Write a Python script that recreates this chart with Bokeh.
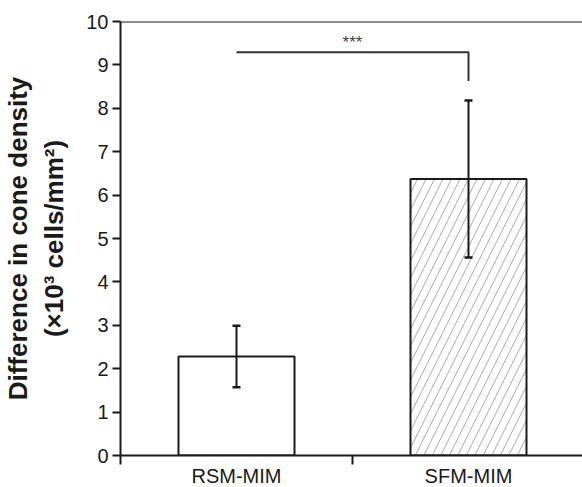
from bokeh.plotting import figure
from bokeh.models import (ColumnDataSource, Range1d, FixedTicker, Whisker, TeeHead,
                          Span, Label)
from bokeh.embed import file_html
from bokeh.resources import INLINE

# ---- data ----
categories = ["RSM-MIM", "SFM-MIM"]
means = [2.28, 6.37]
errors = [0.71, 1.81]
bracket_y = 9.29
bracket_drop = 8.63
sig_label = "***"
y_ticks = [0, 1, 2, 3, 4, 5, 6, 7, 8, 9, 10]
y_label = "Difference in cone density\n(×10³ cells/mm²)"

FONT = "Liberation Sans"
xs = [i + 0.5 for i in range(len(categories))]
src = ColumnDataSource(dict(
    x=xs, top=means,
    upper=[m + e for m, e in zip(means, errors)],
    lower=[m - e for m, e in zip(means, errors)],
))

p = figure(frame_width=462, frame_height=434, output_backend="svg", toolbar_location=None,
           x_range=Range1d(0, 462 / 232), y_range=Range1d(0, 10),
           min_border_left=120, min_border_right=0, min_border_top=21,
           min_border_bottom=0)
p.xgrid.visible = False
p.ygrid.visible = False
p.outline_line_color = None
p.background_fill_color = "white"
p.border_fill_color = "white"

# bars
p.vbar(x=[xs[0]], top=[means[0]], width=0.5, fill_color="white",
       line_color="#1a1a1a", line_width=2)
p.vbar(x=[xs[1]], top=[means[1]], width=0.5, fill_color="white",
       line_color="#1a1a1a", line_width=2, hatch_pattern="/",
       hatch_color="#9a9a9a", hatch_scale=17, hatch_weight=1, hatch_alpha=0.85)

# error bars
wh = Whisker(base="x", upper="upper", lower="lower", source=src, level="overlay",
             line_color="#1a1a1a", line_width=2,
             upper_head=TeeHead(size=8, line_color="#1a1a1a", line_width=2.5),
             lower_head=TeeHead(size=8, line_color="#1a1a1a", line_width=2.5))
p.add_layout(wh)

# significance bracket
p.line(x=[xs[0], xs[1], xs[1]], y=[bracket_y, bracket_y, bracket_drop],
       line_color="#333333", line_width=2)
p.add_layout(Label(x=(xs[0] + xs[1]) / 2, y=bracket_y, text=sig_label,
                   text_align="center", text_baseline="bottom", y_offset=0,
                   text_font=FONT, text_font_size="17px", text_color="#444444"))

# top frame line
p.add_layout(Span(location=10, dimension="width", line_color="#1a1a1a", line_width=2))

# axes
xa = p.xaxis[0]
xa.ticker = FixedTicker(ticks=xs, minor_ticks=[0, 1, 2])
xa.major_label_overrides = {x: c for x, c in zip(xs, categories)}
xa.major_tick_out = 0
xa.major_tick_in = 0
xa.minor_tick_out = 9
xa.minor_tick_in = 0
xa.minor_tick_line_color = "#1a1a1a"
xa.minor_tick_line_width = 2
xa.axis_line_color = "#1a1a1a"
xa.axis_line_width = 2
xa.major_label_standoff = 0
xa.major_label_text_font = FONT
xa.major_label_text_font_size = "20px"
xa.major_label_text_color = "#1a1a1a"

ya = p.yaxis[0]
ya.ticker = FixedTicker(ticks=y_ticks, minor_ticks=[])
ya.major_tick_out = 8
ya.major_tick_in = 0
ya.major_tick_line_color = "#1a1a1a"
ya.major_tick_line_width = 2
ya.axis_line_color = "#1a1a1a"
ya.axis_line_width = 2
ya.major_label_standoff = 4
ya.major_label_text_font = FONT
ya.major_label_text_font_size = "20px"
ya.major_label_text_color = "#1a1a1a"
ya.axis_label = y_label
ya.axis_label_text_font = FONT
ya.axis_label_text_font_style = "bold"
ya.axis_label_text_font_size = "26px"
ya.axis_label_text_color = "#1a1a1a"
ya.axis_label_standoff = 14

open("out.html", "w").write(file_html(p, INLINE))
